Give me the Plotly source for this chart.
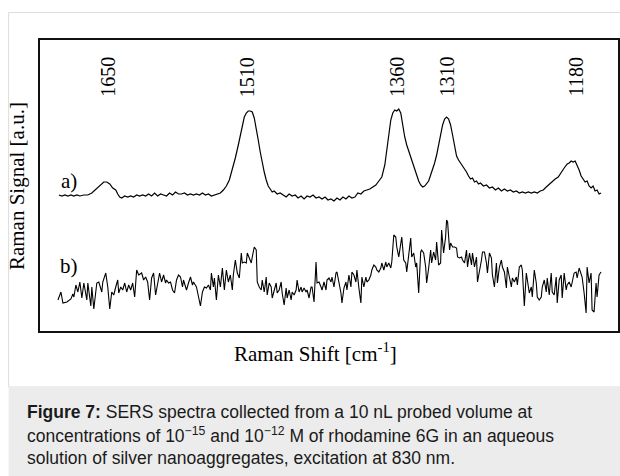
import plotly.graph_objects as go

# ---- data: spectrum a) (10^-12 M) ----
a_shift = [
    1699, 1696, 1693, 1690, 1687, 1684, 1681, 1678, 1674, 1670,
    1666, 1662, 1658, 1654, 1651, 1648, 1645, 1642, 1640, 1638,
    1636, 1633, 1630, 1627, 1624, 1621, 1618, 1615, 1612, 1609,
    1606, 1603, 1600, 1597, 1594, 1591, 1588, 1585, 1582, 1579,
    1576, 1573, 1570, 1567, 1564, 1561, 1558, 1555, 1552, 1549,
    1546, 1543, 1540, 1537, 1534, 1531, 1528, 1525, 1522, 1519,
    1516, 1513, 1511, 1509, 1507, 1505, 1503, 1501, 1499, 1497,
    1495, 1493, 1491, 1489, 1487, 1485, 1483, 1480, 1477, 1474,
    1471, 1468, 1465, 1462, 1459, 1456, 1453, 1450, 1447, 1444,
    1441, 1438, 1435, 1432, 1429, 1426, 1423, 1420, 1417, 1414,
    1411, 1408, 1405, 1402, 1399, 1396, 1393, 1390, 1387, 1384,
    1381, 1378, 1375, 1372, 1370, 1368, 1366, 1364, 1362, 1360,
    1358, 1356, 1354, 1352, 1350, 1348, 1346, 1344, 1342, 1340,
    1338, 1336, 1334, 1332, 1330, 1328, 1326, 1324, 1322, 1320,
    1318, 1316, 1314, 1312, 1310, 1308, 1306, 1304, 1302, 1300,
    1298, 1296, 1294, 1292, 1290, 1288, 1286, 1284, 1282, 1280,
    1278, 1276, 1273, 1270, 1267, 1264, 1261, 1258, 1255, 1252,
    1249, 1246, 1243, 1240, 1237, 1234, 1231, 1228, 1225, 1222,
    1219, 1216, 1213, 1210, 1207, 1204, 1201, 1198, 1195, 1192,
    1189, 1187, 1185, 1183, 1181, 1179, 1177, 1175, 1173, 1171,
    1169, 1167, 1165, 1163, 1161, 1159, 1157, 1155,
]
a_signal = [
    136, 135, 136, 135, 136, 135, 136, 135, 136, 136,
    138, 142, 146, 149, 149, 147, 143, 141, 137, 134,
    133, 135, 134, 135, 134, 136, 135, 136, 135, 137,
    135, 138, 135, 137, 136, 135, 138, 136, 139, 137,
    137, 138, 136, 137, 136, 137, 136, 138, 136, 137,
    135, 136, 137, 138, 141, 145, 151, 161, 173, 186,
    201, 214, 218, 220, 220, 219, 213, 203, 191, 179,
    168, 159, 151, 145, 142, 139, 140, 137, 138, 136,
    134, 137, 135, 136, 133, 135, 132, 135, 134, 136,
    133, 134, 132, 134, 131, 132, 130, 133, 131, 134,
    132, 135, 133, 134, 138, 137, 140, 141, 142, 144,
    146, 150, 154, 166, 181, 198, 211, 218, 221, 220,
    222, 218, 205, 194, 186, 180, 173, 167, 160, 154,
    150, 146, 144, 145, 147, 150, 156, 161, 168, 176,
    186, 197, 206, 212, 214, 212, 206, 196, 184, 175,
    171, 168, 166, 162, 159, 155, 152, 153, 149, 150,
    147, 148, 145, 146, 143, 144, 141, 143, 140, 142,
    140, 141, 139, 140, 138, 139, 138, 139, 138, 139,
    138, 140, 141, 144, 147, 149, 152, 154, 159, 163,
    167, 168, 170, 169, 170, 166, 161, 155, 152, 149,
    150, 145, 143, 145, 140, 141, 137, 138,
]

# ---- data: spectrum b) (10^-15 M) ----
b_shift = [
    1700, 1697, 1695, 1691, 1687, 1685, 1684, 1682, 1680, 1678,
    1676, 1674, 1671, 1670, 1667, 1666, 1664, 1661, 1659, 1656,
    1655, 1652, 1650, 1648, 1646, 1644, 1642, 1640, 1639, 1637,
    1635, 1633, 1631, 1629, 1627, 1625, 1623, 1621, 1619, 1616,
    1614, 1612, 1610, 1608, 1606, 1604, 1602, 1600, 1598, 1596,
    1594, 1592, 1591, 1589, 1587, 1585, 1583, 1581, 1579, 1577,
    1575, 1574, 1571, 1569, 1567, 1565, 1564, 1561, 1559, 1557,
    1555, 1553, 1551, 1549, 1547, 1546, 1544, 1543, 1541, 1539,
    1537, 1535, 1533, 1531, 1529, 1527, 1525, 1524, 1522, 1520,
    1518, 1516, 1515, 1513, 1511, 1510, 1508, 1506, 1505, 1503,
    1501, 1500, 1498, 1496, 1495, 1493, 1491, 1490, 1488, 1486,
    1485, 1483, 1481, 1480, 1478, 1476, 1475, 1473, 1471, 1470,
    1468, 1466, 1465, 1463, 1461, 1460, 1458, 1456, 1455, 1453,
    1451, 1450, 1448, 1446, 1445, 1443, 1441, 1440, 1438, 1436,
    1435, 1433, 1431, 1430, 1428, 1426, 1425, 1423, 1421, 1420,
    1418, 1416, 1415, 1413, 1411, 1410, 1408, 1406, 1405, 1403,
    1401, 1400, 1398, 1396, 1395, 1393, 1391, 1390, 1388, 1386,
    1385, 1383, 1381, 1380, 1378, 1376, 1375, 1373, 1371, 1370,
    1368, 1366, 1365, 1363, 1361, 1360, 1358, 1356, 1355, 1353,
    1351, 1350, 1348, 1346, 1345, 1343, 1341, 1340,
    1338, 1336, 1335, 1333, 1331, 1330, 1328, 1326, 1325, 1323,
    1321, 1320, 1318, 1316, 1315, 1313, 1311, 1310, 1309, 1307,
    1306, 1304, 1302, 1300, 1299, 1297, 1295, 1294, 1292, 1290,
    1289, 1287, 1285, 1284, 1282, 1280, 1279, 1277, 1275, 1274,
    1272, 1270, 1269, 1267, 1265, 1264, 1262, 1260, 1259, 1257,
    1255, 1254, 1252, 1250, 1249, 1247, 1245, 1244, 1242, 1240,
    1239, 1237, 1235, 1234, 1232, 1230, 1229, 1227, 1225, 1224,
    1222, 1220, 1219, 1217, 1215, 1214, 1212, 1210, 1209, 1207,
    1205, 1204, 1202, 1200, 1199, 1197, 1195, 1194, 1192, 1190,
    1189, 1187, 1185, 1184, 1182, 1180, 1179, 1177, 1175, 1174,
    1172, 1170, 1169, 1167, 1165, 1164, 1162, 1160, 1159, 1157,
    1155,
]
b_signal = [
    31, 39, 28, 29, 32, 37, 34, 46, 39, 49,
    33, 48, 31, 48, 25, 44, 22, 48, 49, 39,
    49, 58, 44, 22, 39, 36, 44, 51, 38, 44,
    41, 48, 39, 46, 41, 48, 34, 61, 56, 58,
    51, 54, 49, 31, 53, 58, 36, 49, 58, 49,
    56, 48, 51, 48, 49, 41, 38, 51, 56, 54,
    44, 51, 41, 48, 54, 46, 49, 44, 33, 25,
    39, 44, 43, 46, 41, 58, 44, 53, 31, 56,
    44, 63, 41, 61, 49, 56, 41, 56, 71, 58,
    53, 78, 68, 69, 68, 78, 73, 68, 74, 84,
    81, 49, 44, 41, 51, 39, 54, 36, 48, 44,
    33, 41, 48, 38, 41, 49, 38, 26, 43, 33,
    41, 31, 39, 36, 41, 51, 39, 44, 39, 43,
    39, 41, 33, 44, 44, 29, 69, 48, 49, 44,
    41, 49, 41, 51, 53, 49, 54, 44, 58, 59,
    49, 38, 28, 43, 49, 41, 56, 44, 59, 56,
    49, 61, 43, 28, 54, 44, 54, 49, 51, 56,
    61, 66, 64, 61, 59, 63, 68, 61, 69, 64,
    68, 63, 69, 96, 94, 84, 74, 88, 94, 71,
    68, 59, 79, 93, 74, 78, 64, 68,
    38, 79, 81, 78, 64, 48, 63, 81, 68, 79,
    71, 89, 66, 68, 101, 78, 94, 111, 109, 81,
    88, 84, 84, 83, 74, 73, 74, 71, 68, 81,
    64, 78, 66, 78, 64, 74, 49, 59, 71, 79,
    79, 68, 58, 78, 73, 56, 44, 68, 48, 64,
    71, 64, 59, 43, 64, 54, 44, 53, 49, 54,
    46, 64, 66, 61, 25, 58, 51, 38, 44, 34,
    61, 48, 34, 31, 34, 44, 51, 39, 53, 36,
    58, 39, 36, 54, 28, 51, 56, 33, 58, 41,
    46, 49, 44, 48, 58, 59, 53, 63, 56, 54,
    38, 18, 64, 48, 58, 21, 19, 48, 34, 56,
    59,
]

peak_labels = ["1650", "1510", "1360", "1310", "1180"]
peak_positions = [1650, 1510, 1360, 1310, 1180]

curve_labels = ["a)", "b)"]

caption_lines = [
    "<b>Figure 7:</b> SERS spectra collected from a 10 nL probed volume at",
    "concentrations of 10<sup>\u221215</sup> and 10<sup>\u221212</sup> M of rhodamine 6G in an aqueous",
    "solution of silver nanoaggregates, excitation at 830 nm.",
]

x_title = "Raman Shift [cm<sup>-1</sup>]"
y_title = "Raman Signal [a.u.]"

# ---- layout constants ----
W, H = 620, 476
ML, MR, MT, MB = 40, 0, 40, 145
PW = W - ML - MR
PH = H - MT - MB


def px(x):
    return (x - ML) / PW


def py(y):
    return (H - MB - y) / PH


SERIF = "Liberation Serif, Times New Roman, serif"
SANS = "Liberation Sans, Arial, Helvetica, sans-serif"

fig = go.Figure()
fig.add_trace(go.Scatter(x=a_shift, y=a_signal, mode="lines",
                         line=dict(color="#000000", width=1.2), showlegend=False,
                         hoverinfo="skip"))
fig.add_trace(go.Scatter(x=b_shift, y=b_signal, mode="lines",
                         line=dict(color="#000000", width=1.1), showlegend=False,
                         hoverinfo="skip"))

annotations = []
for lab, pos in zip(peak_labels, peak_positions):
    annotations.append(dict(x=pos, y=254, xref="x", yref="y", text=lab,
                            textangle=-90, showarrow=False, xanchor="center",
                            yanchor="middle", font=dict(family=SERIF, size=20, color="#000")))

annotations.append(dict(x=1699, y=150, xref="x", yref="y", text=curve_labels[0],
                        showarrow=False, xanchor="left", yanchor="middle",
                        font=dict(family=SERIF, size=21, color="#000")))
annotations.append(dict(x=1700, y=65, xref="x", yref="y", text=curve_labels[1],
                        showarrow=False, xanchor="left", yanchor="middle",
                        font=dict(family=SERIF, size=21, color="#000")))

annotations.append(dict(x=px(316), y=py(352), xref="paper", yref="paper", text=x_title,
                        showarrow=False, xanchor="center", yanchor="middle",
                        font=dict(family=SERIF, size=21, color="#000")))
annotations.append(dict(x=px(17), y=py(186), xref="paper", yref="paper", text=y_title,
                        textangle=-90, showarrow=False, xanchor="center", yanchor="middle",
                        font=dict(family=SERIF, size=21, color="#000")))

for i, line in enumerate(caption_lines):
    annotations.append(dict(x=px(25), y=py(412 + 23 * i), xref="paper", yref="paper",
                            text=line, showarrow=False, xanchor="left", yanchor="middle",
                            font=dict(family=SANS, size=17.5, color="#1a1a1a")))

shapes = [
    dict(type="rect", xref="paper", yref="paper", x0=px(8.5), x1=px(660),
         y0=py(387), y1=py(12.5), line=dict(color="#dddddd", width=1), layer="below"),
    dict(type="rect", xref="paper", yref="paper", x0=px(8.5), x1=px(660),
         y0=py(490), y1=py(387), line=dict(width=0), fillcolor="#ececec", layer="below"),
]

fig.update_layout(
    width=W, height=H,
    margin=dict(l=ML, r=MR, t=MT, b=MB, pad=0),
    paper_bgcolor="white", plot_bgcolor="white",
    annotations=annotations, shapes=shapes,
    xaxis=dict(range=[1718, 1138], showticklabels=False, ticks="", showgrid=False,
               zeroline=False, showline=True, linecolor="#111", linewidth=1.5, mirror=True),
    yaxis=dict(range=[0, 291], showticklabels=False, ticks="", showgrid=False,
               zeroline=False, showline=True, linecolor="#111", linewidth=1.5, mirror=True),
)

fig.write_html("out.html")
